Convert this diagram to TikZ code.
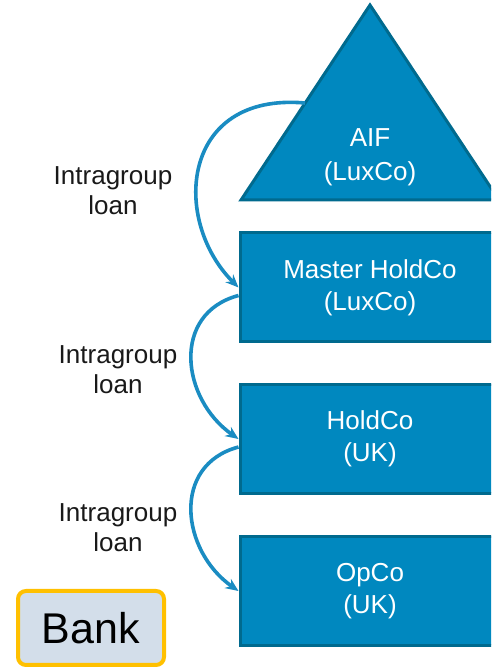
\documentclass[tikz,border=0pt]{standalone}
\usepackage{fontspec}
\setmainfont{Liberation Sans}
\usetikzlibrary{arrows.meta}
\definecolor{coblue}{HTML}{0088BF}
\definecolor{coedge}{HTML}{006A8E}
\definecolor{loanline}{HTML}{1A8CC2}
\definecolor{bankfill}{HTML}{D3DEEA}
\definecolor{bankedge}{HTML}{FFC000}
\tikzset{
  entity/.style={draw=coedge, fill=coblue, line width=3pt, text=white, align=center,
    minimum width=260pt, minimum height=109pt, inner sep=0pt,
    font=\fontsize{26}{32}\selectfont},
  loanlabel/.style={align=center, text=black!90, font=\fontsize{26}{30}\selectfont},
  loan/.style={draw=loanline, line width=3.6pt, -{Stealth[length=13pt,width=11pt]}}
}
\begin{document}
\begin{tikzpicture}[x=1pt,y=1pt]
    \useasboundingbox (0,0) rectangle (491,668);
    \clip (0,0) rectangle (491,668);
    % fund at the top
    \draw[draw=coedge, fill=coblue, line width=3pt, line join=miter] (241,468) -- (370,663) -- (499,468) -- cycle;
    \node[text=white, align=center, font=\fontsize{26}{34}\selectfont] (aif) at (370,511) {AIF\\(LuxCo)};
    \coordinate (aifside) at (305,565);
    % group companies
    \node[entity] (master) at (370,380.5) {Master HoldCo\\(LuxCo)};
    \node[entity] (holdco) at (370,229) {HoldCo\\(UK)};
    \node[entity] (opco) at (370,77) {OpCo\\(UK)};
    \node[draw=bankedge, fill=bankfill, line width=4pt, rounded corners=8pt,
          minimum width=146pt, minimum height=74pt, font=\fontsize{43}{43}\selectfont] (bank) at (91,40) {Bank};
    % loans
    \node[loanlabel] (loanA) at (113,477) {Intragroup\\loan};
    \node[loanlabel] (loanB) at (118,298) {Intragroup\\loan};
    \node[loanlabel] (loanC) at (118,140) {Intragroup\\loan};
    \draw[loan] (aifside) to[out=175, in=135, out distance=125pt, in distance=95pt] (master.west);
    \draw[loan] ([yshift=-8pt]master.west) to[out=195, in=145, out distance=70pt, in distance=70pt] (holdco.west);
    \draw[loan] ([yshift=-8pt]holdco.west) to[out=195, in=145, out distance=70pt, in distance=70pt] (opco.west);
\end{tikzpicture}
\end{document}
